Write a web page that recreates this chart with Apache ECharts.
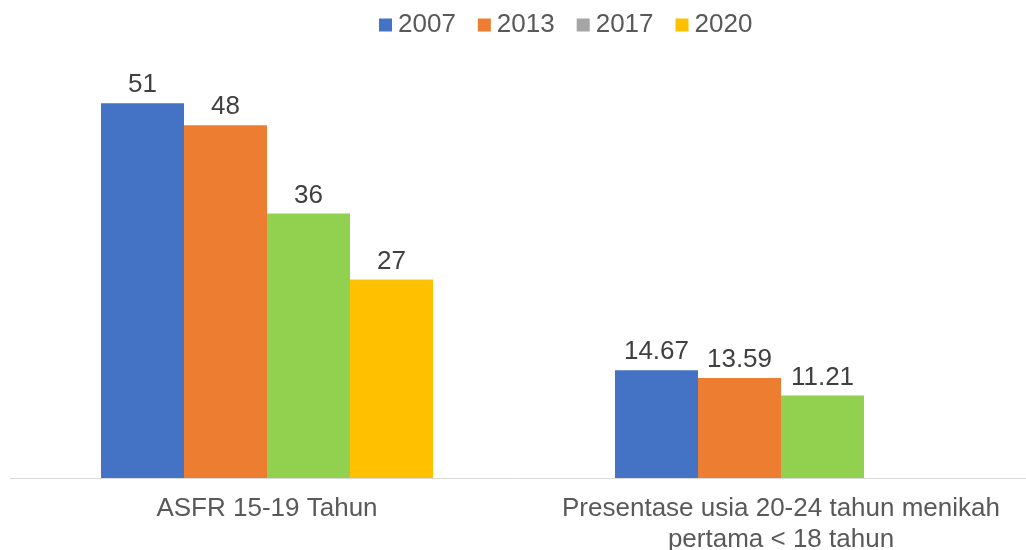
<!DOCTYPE html>
<html>
<head>
<meta charset="utf-8">
<script src="https://cdn.jsdelivr.net/npm/echarts@6/dist/echarts.min.js"></script>
<style>
html,body{margin:0;padding:0;background:#fff;}
#chart{width:1026px;height:550px;}
</style>
</head>
<body>
<div id="chart"></div>
<script>
const categories = ['ASFR 15-19 Tahun', 'Presentase usia 20-24 tahun menikah\npertama < 18 tahun'];
const years = ['2007', '2013', '2017', '2020'];
const values2007 = [51, 14.67];
const values2013 = [48, 13.59];
const values2017 = [36, 11.21];
const values2020 = [27, null];

const FONT = '"Liberation Sans", Arial, sans-serif';
const legendColors = ['#4472C4', '#ED7D31', '#A5A5A5', '#FFC000'];
const barColors = ['#4472C4', '#ED7D31', '#92D050', '#FFC000'];
const allValues = [values2007, values2013, values2017, values2020];

const series = years.map((y, i) => ({
  name: y,
  type: 'bar',
  barGap: '0%',
  barCategoryGap: '35.4%',
  itemStyle: { color: legendColors[i] },
  data: allValues[i].map(v => v === null ? null : ({ value: v, itemStyle: { color: barColors[i] } })),
  label: {
    show: true,
    position: 'top',
    distance: 5,
    color: '#404040',
    fontSize: 26,
    fontFamily: FONT
  }
}));

const chart = echarts.init(document.getElementById('chart'));
chart.setOption({
  animation: false,
  legend: {
    data: years,
    left: 374,
    top: 7,
    itemWidth: 13,
    itemHeight: 13,
    itemGap: 22,
    icon: 'rect',
    textStyle: { color: '#595959', fontSize: 26, fontFamily: FONT, padding: [0, 0, 0, 1] }
  },
  grid: { left: 10, width: 1028, top: 37, bottom: 72, containLabel: false, outerBoundsMode: 'none' },
  xAxis: {
    type: 'category',
    data: categories,
    axisLine: { lineStyle: { color: '#D9D9D9', width: 1 } },
    axisTick: { show: false },
    axisLabel: {
      color: '#595959',
      fontSize: 26,
      fontFamily: FONT,
      lineHeight: 31,
      margin: 15,
      interval: 0
    }
  },
  yAxis: {
    type: 'value',
    min: 0,
    max: 60,
    show: false,
    splitLine: { show: false }
  },
  series: series
});
</script>
</body>
</html>
